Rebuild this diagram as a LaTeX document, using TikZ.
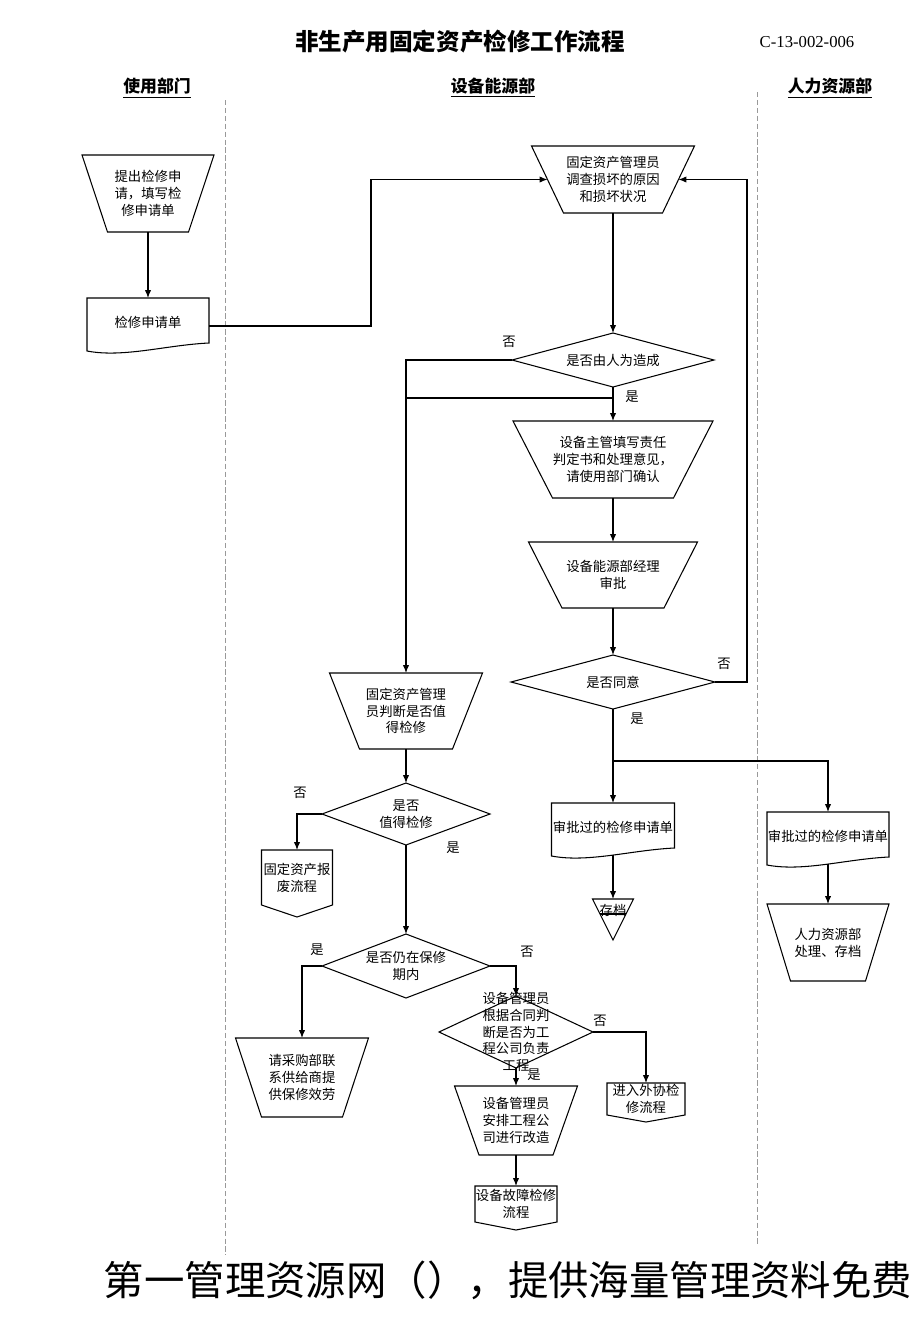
\documentclass[tikz,border=0pt]{standalone}
\usepackage{fontspec}
\setmainfont{Noto Sans CJK SC}
\newfontfamily\codefont{Liberation Serif}
\usetikzlibrary{arrows.meta}
\tikzstyle{shapeline}=[draw=black,line width=0.6pt]
\tikzstyle{flow}=[line width=0.6pt,-{Latex[length=4.5pt,width=3.6pt]}]
\tikzstyle{plainflow}=[line width=0.6pt]
\tikzstyle{boxtext}=[font=\fontsize{7.6}{9.6}\selectfont,align=center,inner sep=0pt]
\tikzstyle{yesno}=[font=\fontsize{7.6}{9}\selectfont,inner sep=0pt]
\tikzstyle{lane}=[gray!80,line width=0.5pt,dash pattern=on 3pt off 1.5pt]
\tikzstyle{lanehead}=[font=\fontsize{9.6}{11}\selectfont\bfseries,inner sep=0pt]
\newcommand{\manualop}[7]{% Syntax: {name}{centre x}{top y}{bottom y}{half top}{half bottom}{text}
\draw[shapeline] (#2-#5,#3) -- (#2+#5,#3) -- (#2+#6,#4) -- (#2-#6,#4) -- cycle;
\node[boxtext] (#1) at ({#2},{(#3+#4)/2}) {#7};
\coordinate (#1-n) at (#2,#3);
\coordinate (#1-s) at (#2,#4);
\coordinate (#1-w) at ({#2-(#5+#6)/2},{(#3+#4)/2});
\coordinate (#1-e) at ({#2+(#5+#6)/2},{(#3+#4)/2});
}
\newcommand{\decision}[6]{% Syntax: {name}{centre x}{centre y}{half width}{half height}{text}
\coordinate (#1-n) at (#2,#3-#5);
\coordinate (#1-s) at (#2,#3+#5);
\coordinate (#1-w) at (#2-#4,#3);
\coordinate (#1-e) at (#2+#4,#3);
\draw[shapeline] (#1-n) -- (#1-e) -- (#1-s) -- (#1-w) -- cycle;
\node[boxtext] (#1) at (#2,#3) {#6};
}
\newcommand{\docshape}[5]{% Syntax: {name}{centre x}{top y}{half width}{text}
\draw[shapeline] (#2-#4,#3) -- (#2+#4,#3) -- (#2+#4,#3+45) .. controls ({#2+0.3*#4},#3+47) and ({#2-0.4*#4},#3+60) .. (#2-#4,#3+53) -- cycle;
\node[boxtext] (#1) at (#2,#3+24) {#5};
\coordinate (#1-n) at (#2,#3);
\coordinate (#1-s) at (#2,#3+52);
\coordinate (#1-e) at (#2+#4,#3+28);
}
\newcommand{\offpage}[7]{% Syntax: {name}{centre x}{top y}{half width}{box bottom y}{tip y}{text}
\draw[shapeline] (#2-#4,#3) -- (#2+#4,#3) -- (#2+#4,#5) -- (#2,#6) -- (#2-#4,#5) -- cycle;
\node[boxtext] (#1) at ({#2},{(#3+#5)/2}) {#7};
\coordinate (#1-n) at (#2,#3);
}
\newcommand{\archive}[6]{% Syntax: {name}{centre x}{top y}{half width}{tip y}{text}
\draw[shapeline] (#2-#4,#3) -- (#2+#4,#3) -- (#2,#5) -- cycle;
\draw[shapeline] ({#2-#4*(#5-#3-15)/(#5-#3)},#3+15) -- ({#2+#4*(#5-#3-15)/(#5-#3)},#3+15);
\node[boxtext] (#1) at (#2,#3+11) {#6};
\coordinate (#1-n) at (#2,#3);
}
\begin{document}
\begin{tikzpicture}[x=0.02cm,y=-0.02cm]
\useasboundingbox (0,0) rectangle (920,1329);
% heading and lanes
\node[font=\fontsize{13.4}{16}\selectfont\bfseries,inner sep=0pt] (title) at (460,42) {非生产用固定资产检修工作流程};
\node[font=\codefont\fontsize{9.5}{11}\selectfont,inner sep=0pt] (code) at (807,42) {C-13-002-006};
\node[lanehead] (laneuse) at (157,88) {\underline{使用部门}};
\node[lanehead] (laneequip) at (493,88) {\underline{设备能源部}};
\node[lanehead] (lanehr) at (830,88) {\underline{人力资源部}};
\draw[lane] (225,100) -- (225,1255);
\draw[lane] (757,92) -- (757,1245);
% shapes
\manualop{apply}{148}{155}{232}{66}{40.5}{提出检修申\\请，填写检\\修申请单}
\docshape{form}{148}{298}{61}{检修申请单}
\manualop{survey}{613}{146}{213}{81.5}{49.5}{固定资产管理员\\调查损坏的原因\\和损坏状况}
\decision{human}{613}{360}{101}{27}{是否由人为造成}
\manualop{blame}{613}{421}{498}{100}{60.5}{设备主管填写责任\\判定书和处理意见，\\请使用部门确认}
\manualop{approve}{613}{542}{608}{84.5}{51}{设备能源部经理\\审批}
\decision{agree}{613}{682}{102}{27}{是否同意}
\docshape{okform}{613}{803}{61.5}{审批过的检修申请单}
\archive{store}{613}{899}{20.5}{940}{存档}
\docshape{hrform}{828}{812}{61}{审批过的检修申请单}
\manualop{hrdo}{828}{904}{981}{61}{37.5}{人力资源部\\处理、存档}
\manualop{judge}{406}{673}{749}{76.5}{46.5}{固定资产管理\\员判断是否值\\得检修}
\decision{worth}{406}{814}{84}{31}{是否\\值得检修}
\offpage{scrap}{297}{850}{35.5}{905}{917}{固定资产报\\废流程}
\decision{warranty}{406}{966}{84}{32}{是否仍在保修\\期内}
\manualop{supplier}{302}{1038}{1117}{66.5}{40.5}{请采购部联\\系供给商提\\供保修效劳}
\decision{contract}{516}{1032}{77}{36}{设备管理员\\根据合同判\\断是否为工\\程公司负责\\工程}
\offpage{outside}{646}{1083}{39}{1115}{1122}{进入外协检\\修流程}
\manualop{rebuild}{516}{1086}{1155}{61.5}{37}{设备管理员\\安排工程公\\司进行改造}
\offpage{repair}{516}{1186}{41}{1222}{1230}{设备故障检修\\流程}
% yes / no
\node[yesno] (no1) at (509,342) {否};
\node[yesno] (yes1) at (632,397) {是};
\node[yesno] (no2) at (724,664) {否};
\node[yesno] (yes2) at (637,719) {是};
\node[yesno] (no3) at (300,793) {否};
\node[yesno] (yes3) at (453,848) {是};
\node[yesno] (yes4) at (317,950) {是};
\node[yesno] (no4) at (527,952) {否};
\node[yesno] (no5) at (600,1021) {否};
\node[yesno] (yes5) at (534,1075) {是};
% connectors
\coordinate (k1) at (371,179.5);
\coordinate (k2) at (747,179.5);
\coordinate (j1) at (406,398);
\coordinate (br) at (613,761);
\draw[flow] (apply-s) -- (form-n);
\draw[flow] (form-e) -| (k1) -- (survey-w);
\draw[flow] (survey-s) -- (human-n);
\draw[flow] (human-w) -| (judge-n);
\draw[flow] (human-s) -- (blame-n);
\draw[plainflow] (j1) -- (human-s |- j1);
\draw[flow] (blame-s) -- (approve-n);
\draw[flow] (approve-s) -- (agree-n);
\draw[flow] (agree-e) -| (k2) -- (survey-e);
\draw[flow] (agree-s) -- (okform-n);
\draw[flow] (br) -| (hrform-n);
\draw[flow] (okform-s) -- (store-n);
\draw[flow] (hrform-s) -- (hrdo-n);
\draw[flow] (judge-s) -- (worth-n);
\draw[flow] (worth-w) -| (scrap-n);
\draw[flow] (worth-s) -- (warranty-n);
\draw[flow] (warranty-w) -| (supplier-n);
\draw[flow] (warranty-e) -| (contract-n);
\draw[flow] (contract-e) -| (outside-n);
\draw[flow] (contract-s) -- (rebuild-n);
\draw[flow] (rebuild-s) -- (repair-n);
% footer
\node[font=\fontsize{23}{23}\selectfont,inner sep=0pt] (footer) at (508,1280) {第一管理资源网（），提供海量管理资料免费};
\end{tikzpicture}
\end{document}
